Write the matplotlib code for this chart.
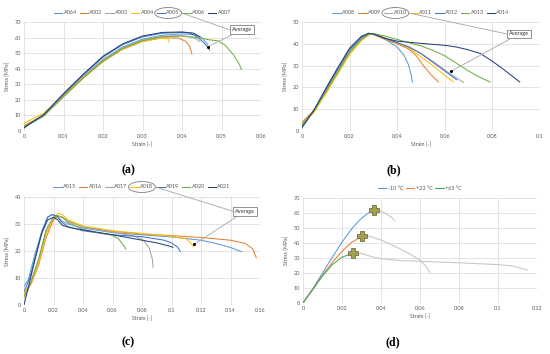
import numpy as np
import matplotlib
matplotlib.use("Agg")
import matplotlib.pyplot as plt
from matplotlib.patches import Ellipse
from matplotlib.lines import Line2D
from matplotlib.ticker import FuncFormatter

plt.rcParams['font.family'] = ['Lato', 'DejaVu Sans']

# Excel-like palette
colors7 = ['#5B9BD5', '#ED7D31', '#A5A5A5', '#FFC000', '#4472C4', '#70AD47', '#264478']

# ---------------- (a) ----------------
labels_a = ['A064', 'A002', 'A003', 'A004', 'A005', 'A006', 'A007']
strain_a = [
    [0, 0.005, 0.01, 0.015, 0.02, 0.025, 0.03, 0.035, 0.04, 0.043, 0.045, 0.0465],
    [0, 0.005, 0.01, 0.015, 0.02, 0.025, 0.03, 0.035, 0.039, 0.041, 0.042, 0.0425],
    [0, 0.005, 0.01, 0.015, 0.02, 0.025, 0.03, 0.035, 0.04, 0.043, 0.0445],
    [0, 0.005, 0.01, 0.015, 0.02, 0.025, 0.03, 0.034, 0.0365, 0.0368],
    [0, 0.005, 0.01, 0.015, 0.02, 0.025, 0.03, 0.035, 0.04, 0.042, 0.0435, 0.045, 0.0465, 0.047],
    [0, 0.005, 0.01, 0.015, 0.02, 0.025, 0.03, 0.035, 0.04, 0.044, 0.047, 0.049, 0.051, 0.053, 0.0545, 0.055],
    [0, 0.005, 0.01, 0.015, 0.02, 0.025, 0.03, 0.035, 0.04, 0.043, 0.0445],
]
stress_a = [
    [3, 10.5, 23, 35, 46, 54, 59, 61.5, 62.3, 62, 60, 55.5],
    [3.5, 10, 22, 34, 44.5, 52.5, 57.5, 59.8, 59.8, 57.5, 54, 49.5],
    [2.5, 10, 22.5, 34.5, 45.5, 53.5, 58.5, 60.8, 61.2, 60, 57.5],
    [5, 11.5, 23, 34.5, 45, 52.5, 57.5, 59.5, 59.3, 57],
    [2, 10.5, 23.5, 36, 47.5, 55.5, 60.5, 62.8, 63.3, 63, 61, 58, 54, 52],
    [2.5, 9.5, 22, 34, 45, 53, 58, 60.5, 61, 60, 58.5, 58, 55, 49, 43, 39.5],
    [2, 10.5, 24, 36.5, 48, 56, 61, 63.3, 63.6, 62.8, 60.5],
]
avg_a = (0.0466, 54.2)
box_a = (0.0552, 64.9)

# ---------------- (b) ----------------
labels_b = ['A008', 'A009', 'A010', 'A011', 'A012', 'A013', 'A014']
strain_b = [
    [0, 0.005, 0.01, 0.015, 0.02, 0.025, 0.028, 0.03, 0.035, 0.04, 0.043, 0.0447, 0.0458, 0.0464],
    [0, 0.005, 0.01, 0.015, 0.02, 0.025, 0.028, 0.03, 0.035, 0.04, 0.045, 0.048, 0.051, 0.054, 0.0573],
    [0, 0.005, 0.01, 0.015, 0.02, 0.025, 0.028, 0.03, 0.035, 0.04, 0.045, 0.05, 0.055, 0.06, 0.064, 0.0678],
    [0, 0.005, 0.01, 0.015, 0.02, 0.025, 0.028, 0.03, 0.035, 0.04, 0.045, 0.05, 0.055, 0.06, 0.0636],
    [0, 0.005, 0.01, 0.015, 0.02, 0.025, 0.028, 0.03, 0.035, 0.04, 0.045, 0.05, 0.055, 0.06, 0.065],
    [0, 0.005, 0.01, 0.015, 0.02, 0.025, 0.028, 0.03, 0.035, 0.04, 0.045, 0.05, 0.055, 0.06, 0.065, 0.07, 0.075, 0.079],
    [0, 0.005, 0.01, 0.015, 0.02, 0.025, 0.028, 0.03, 0.035, 0.04, 0.05, 0.06, 0.065, 0.07, 0.075, 0.08, 0.085, 0.0915],
]
stress_b = [
    [3, 9.5, 19, 28, 37, 43, 44.8, 44.3, 42, 38.5, 34.5, 30.5, 26, 22.5],
    [4, 9.5, 18, 27, 36, 42.5, 44.5, 44.3, 42, 40, 37.5, 34.5, 30, 26, 22.5],
    [2, 9, 18, 27.5, 36.5, 42.5, 44.5, 44.5, 42.5, 40.5, 38.5, 35.5, 32, 28, 25, 22.3],
    [3, 8.5, 17, 26, 35, 41.5, 44, 44.5, 42.5, 40.5, 38, 34, 30, 25.5, 22.5],
    [2, 9.5, 19, 28.5, 37.5, 43, 44.8, 44.5, 42.5, 40.5, 38.5, 35.5, 31.5, 27.5, 23.5],
    [3, 9, 18, 27, 36, 42, 44.3, 44.7, 43.5, 42, 40.5, 39, 37, 34.5, 31, 27.5, 24.5, 22.5],
    [1.5, 9.5, 19.5, 29, 38, 43.5, 44.8, 44.5, 42.5, 41.2, 40.2, 39.3, 38.5, 37.2, 35.5, 32, 28, 22.5],
]
avg_b = (0.0628, 27.5)
box_b = (0.0912, 44.5)

# ---------------- (c) ----------------
labels_c = ['A015', 'A016', 'A017', 'A018', 'A019', 'A020', 'A021']
strain_c = [
    [0, 0.003, 0.007, 0.012, 0.016, 0.019, 0.022, 0.026, 0.03, 0.04, 0.06, 0.08, 0.1, 0.12, 0.13, 0.14, 0.1476],
    [0, 0.005, 0.01, 0.015, 0.02, 0.023, 0.026, 0.03, 0.04, 0.06, 0.08, 0.1, 0.12, 0.14, 0.15, 0.155, 0.1575],
    [0, 0.005, 0.01, 0.015, 0.02, 0.023, 0.026, 0.03, 0.04, 0.06, 0.075, 0.081, 0.085, 0.087, 0.0875],
    [0, 0.005, 0.01, 0.015, 0.02, 0.023, 0.026, 0.03, 0.04, 0.06, 0.08, 0.1, 0.11, 0.113, 0.115],
    [0, 0.004, 0.008, 0.012, 0.016, 0.019, 0.022, 0.026, 0.03, 0.04, 0.06, 0.08, 0.095, 0.1, 0.104, 0.106],
    [0, 0.005, 0.01, 0.015, 0.02, 0.023, 0.026, 0.03, 0.04, 0.05, 0.06, 0.064, 0.067, 0.069],
    [0, 0.004, 0.008, 0.012, 0.016, 0.02, 0.023, 0.026, 0.03, 0.04, 0.06, 0.08, 0.09, 0.1, 0.101],
]
stress_c = [
    [7, 9.5, 18, 27, 32.5, 33.5, 33, 31, 30, 28.5, 26.8, 26, 25.2, 24, 22.8, 21.3, 19.7],
    [3, 8, 15, 25, 31.5, 33, 32.5, 31, 29, 27.3, 26.3, 25.7, 25, 24, 22.8, 20.8, 17.5],
    [4, 9, 17, 27, 32, 33, 32.5, 31, 29, 27, 25.5, 24, 21, 17, 14],
    [4, 8.5, 15.5, 26, 32.5, 34, 33.5, 31.5, 29.3, 27.5, 26.5, 25.5, 24.5, 23, 21.5],
    [5, 10, 18.5, 27, 32.5, 33.5, 33, 30.5, 29, 27.5, 26, 25.3, 24, 23, 21.5, 19.8],
    [3, 9, 17, 28, 32.5, 33, 32.5, 30.5, 28, 26.8, 25.8, 24.5, 22.5, 20.7],
    [0, 9, 18, 26.5, 31.5, 32.5, 31.5, 29.5, 28.8, 27.8, 26, 24, 23, 21.6, 21.3],
]
avg_c = (0.1155, 22.5)
box_c = (0.1498, 34.7)

# ---------------- (d) ----------------
labels_d = ['-10 °C', '+23 °C', '+65 °C']
colors_d = ['#5B9BD5', '#ED7D31', '#3DAA5C']
strain_d = [
    [0, 0.005, 0.01, 0.015, 0.02, 0.025, 0.03, 0.0335, 0.0362],
    [0, 0.005, 0.01, 0.015, 0.02, 0.025, 0.0303],
    [0, 0.005, 0.01, 0.015, 0.02, 0.0256],
]
stress_d = [
    [0, 9.5, 20, 30.5, 40.5, 49.5, 56.5, 60, 61.7],
    [0, 9, 18.5, 27, 34.5, 40.5, 44.4],
    [0, 9, 18, 25.5, 30.5, 33.3],
]
post_strain_d = [
    [0.0362, 0.039, 0.042, 0.045, 0.047],
    [0.0303, 0.034, 0.04, 0.045, 0.05, 0.055, 0.06, 0.063, 0.065],
    [0.0256, 0.03, 0.035, 0.04, 0.05, 0.06, 0.08, 0.1, 0.107, 0.111, 0.115],
]
post_stress_d = [
    [61.7, 61.7, 60, 57.5, 55],
    [44.4, 44.5, 42, 39, 36, 32.5, 28.5, 24.5, 20.5],
    [33.3, 33, 31, 29.5, 28.3, 27.8, 26.8, 25.6, 24.8, 23.5, 22],
]

W, H = 550, 354
fig = plt.figure(figsize=(W / 100, H / 100), dpi=100)


def px_axes(left, right, top, bottom):
    return fig.add_axes([left / W, 1 - bottom / H, (right - left) / W, (bottom - top) / H])


def style(ax, xmax, xstep, ymax, ystep):
    ax.set_xlim(0, xmax)
    ax.set_ylim(0, ymax)
    ax.set_xticks(np.round(np.arange(0, xmax + xstep / 2, xstep), 4))
    ax.set_yticks(np.arange(0, ymax + ystep / 2, ystep))
    ax.xaxis.set_major_formatter(FuncFormatter(lambda v, p: '%g' % round(v, 4)))
    ax.grid(True, color='#D9D9D9', lw=0.5)
    ax.set_axisbelow(True)
    for s in ax.spines.values():
        s.set_visible(False)
    ax.tick_params(length=0, labelsize=4, colors='#595959', pad=2)
    ax.set_xlabel('Strain [-]', fontsize=3.8, color='#595959', labelpad=2)
    ax.set_ylabel('Stress [MPa]', fontsize=3.8, color='#595959', labelpad=3)


def legend(ax, dy, ncol):
    return ax.legend(loc='center', bbox_to_anchor=(0.5, 1 + dy), ncol=ncol, frameon=False,
                     fontsize=4, handlelength=1.5, handletextpad=0.25, columnspacing=0.5,
                     labelcolor='#595959')


def curves_panel(ax, labels, strains, stresses, avg, box):
    for lab, c, x, y in zip(labels, colors7, strains, stresses):
        ax.plot(x, y, color=c, lw=0.75, label=lab)
    ax.plot(*avg, 'o', color='black', ms=1.2, zorder=5)
    ann = ax.annotate('Average', xy=avg, xytext=box, ha='center', va='center',
                      fontsize=4, color='#333333',
                      bbox=dict(boxstyle='square,pad=0.35', fc='white', ec='#7F7F7F', lw=0.6),
                      arrowprops=dict(arrowstyle='-', color='#A6A6A6', lw=0.6, shrinkA=0, shrinkB=0))
    return ann


ax_a = px_axes(24, 261, 22, 131)
curves_panel_a = curves_panel(ax_a, labels_a, strain_a, stress_a, avg_a, box_a)
style(ax_a, 0.06, 0.01, 70, 10)
leg_a = legend(ax_a, 9 / 109, 7)

ax_b = px_axes(302, 540, 22, 131)
curves_panel_b = curves_panel(ax_b, labels_b, strain_b, stress_b, avg_b, box_b)
style(ax_b, 0.1, 0.02, 50, 10)
leg_b = legend(ax_b, 9 / 109, 7)

ax_c = px_axes(24, 260, 197, 305)
curves_panel_c = curves_panel(ax_c, labels_c, strain_c, stress_c, avg_c, box_c)
style(ax_c, 0.16, 0.02, 40, 10)
leg_c = legend(ax_c, 10 / 108, 7)

ax_d = px_axes(303, 537, 198, 303)
for lab, c, x, y in zip(labels_d, colors_d, strain_d, stress_d):
    ax_d.plot(x, y, color=c, lw=0.75, label=lab)
for x, y in zip(post_strain_d, post_stress_d):
    ax_d.plot(x, y, color='#C8C8C8', lw=0.8)
for x, y in zip(strain_d, stress_d):
    ax_d.plot(x[-1], y[-1], marker='P', ms=6.5, mfc='#A3A054', mec='#5F5D2C', mew=0.5, zorder=5)
style(ax_d, 0.12, 0.02, 70, 10)
legend(ax_d, 10 / 105, 3)

# panel letters
for txt, x, y in [('(a)', 128, 170), ('(b)', 394, 170), ('(c)', 128, 342), ('(d)', 393, 342)]:
    fig.text(x / W, 1 - y / H, txt, ha='center', va='center', fontsize=8.5,
             fontweight='bold', family=['Liberation Serif', 'DejaVu Serif'])

# ellipse around the averaged specimen in the legend + connector to "Average" box
fig.canvas.draw()
rend = fig.canvas.get_renderer()
inv = fig.transFigure.inverted()
for leg, idx, ann in [(leg_a, 4, curves_panel_a), (leg_b, 2, curves_panel_b), (leg_c, 3, curves_panel_c)]:
    tb = leg.get_texts()[idx].get_window_extent(rend)
    hb = leg.legend_handles[idx].get_window_extent(rend)
    x0, x1 = min(tb.x0, hb.x0), max(tb.x1, hb.x1)
    cy = (tb.y0 + tb.y1) / 2
    cx = (x0 + x1) / 2
    w = (x1 - x0) + 4
    h = (tb.y1 - tb.y0) + 6
    (fx, fy), = inv.transform([(cx, cy)])
    fw = w / fig.bbox.width
    fh = h / fig.bbox.height
    fig.add_artist(Ellipse((fx, fy), fw, fh, transform=fig.transFigure, fill=False,
                           ec='#7F7F7F', lw=0.6))
    bb = ann.get_bbox_patch().get_window_extent(rend)
    p = inv.transform([(cx + w / 2, cy), (bb.x0, (bb.y0 + bb.y1) / 2)])
    fig.add_artist(Line2D(p[:, 0], p[:, 1], transform=fig.transFigure, color='#A6A6A6', lw=0.6))

fig.savefig('out.png', dpi=100)
